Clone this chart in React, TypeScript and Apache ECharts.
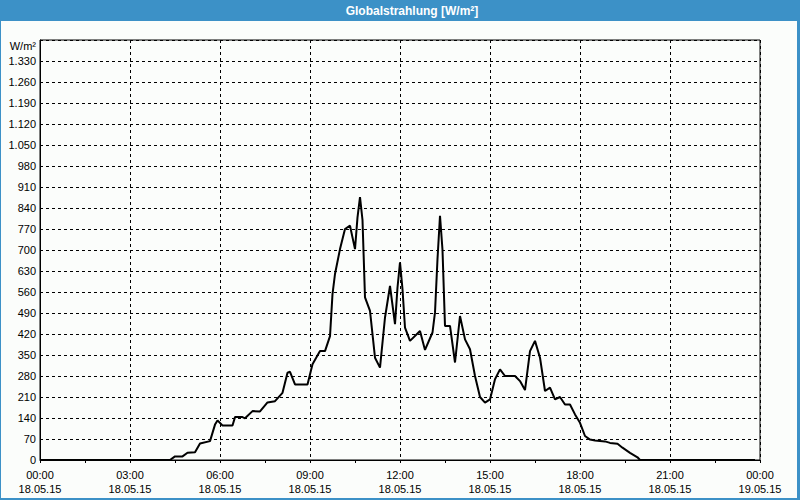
import React, { useEffect, useRef } from "react";
import * as echarts from "echarts";

const TITLE = "Globalstrahlung [W/m²]";
const UNIT = "W/m²";

const times = [
  "00:00", "04:20", "04:30", "04:45", "04:55", "05:10", "05:20", "05:40", "05:50", "05:55",
  "06:05", "06:25", "06:30", "06:45", "06:50", "07:05", "07:20", "07:35", "07:50", "08:05",
  "08:15", "08:20", "08:30", "08:55", "09:05", "09:20", "09:30", "09:40", "09:45", "09:50",
  "10:00", "10:10", "10:20", "10:30", "10:35", "10:40", "10:45", "10:50", "11:00", "11:10",
  "11:20", "11:30", "11:40", "11:50", "11:55", "12:00", "12:05", "12:10", "12:20", "12:40",
  "12:50", "13:05", "13:10", "13:15", "13:20", "13:25", "13:30", "13:40", "13:50", "14:00",
  "14:10", "14:20", "14:30", "14:40", "14:50", "15:00", "15:10", "15:20", "15:30", "15:50",
  "16:00", "16:10", "16:20", "16:30", "16:40", "16:50", "17:00", "17:10", "17:20", "17:30",
  "17:40", "17:50", "18:00", "18:10", "18:20", "18:30", "18:50", "19:00", "19:15", "19:25",
  "19:40", "19:55", "20:00", "23:50",
];

const radiation = [
  0, 0, 12, 12, 24, 26, 55, 63, 118, 132,
  115, 115, 143, 143, 139, 163, 162, 192, 196, 224,
  291, 294, 252, 252, 319, 363, 363, 413, 553, 620,
  703, 770, 781, 703, 809, 876, 800, 542, 497, 341,
  308, 475, 580, 453, 575, 659, 569, 441, 397, 430,
  367, 425, 492, 670, 814, 700, 447, 447, 325, 480,
  402, 369, 280, 210, 191, 202, 269, 302, 280, 280,
  263, 233, 363, 397, 341, 230, 241, 202, 210, 185,
  185, 152, 124, 80, 68, 65, 62, 57, 54, 41,
  24, 9, 0, 0,
];

const dayLabels = ["18.05.15", "19.05.15"];

const Y_MAX = 1400;
const Y_STEP = 70;

function toHours(t: string): number {
  const [h, m] = t.split(":").map(Number);
  return h + m / 60;
}

function fmtThousands(v: number): string {
  const s = String(Math.round(v));
  return s.replace(/\B(?=(\d{3})+(?!\d))/g, ".");
}

export default function App() {
  const ref = useRef<HTMLDivElement>(null);

  useEffect(() => {
    if (!ref.current) return;
    const chart = echarts.init(ref.current, undefined, { renderer: "svg" });
    const data = times.map((t, i) => [toHours(t), radiation[i]]);
    const font = "Liberation Sans";
    chart.setOption({
      animation: false,
      backgroundColor: "#fbfdfb",
      textStyle: { fontFamily: font },
      graphic: [
        { type: "rect", shape: { x: 0, y: 0, width: 800, height: 21 }, style: { fill: "#3c91c7" }, silent: true },
        { type: "rect", shape: { x: 0, y: 0, width: 1, height: 500 }, style: { fill: "#3c91c7" }, silent: true },
        { type: "rect", shape: { x: 797, y: 0, width: 3, height: 500 }, style: { fill: "#3c91c7" }, silent: true },
        { type: "rect", shape: { x: 0, y: 498, width: 800, height: 2 }, style: { fill: "#3c91c7" }, silent: true },
        {
          type: "text",
          x: 412,
          y: 11,
          style: {
            text: TITLE,
            fill: "#ffffff",
            font: `bold 12px "${font}"`,
            align: "center",
            verticalAlign: "middle",
          },
          silent: true,
        },
      ],
      grid: {
        left: 40,
        right: 40,
        top: 40,
        bottom: 40,
        show: true,
        borderColor: "#000",
        borderWidth: 1,
        backgroundColor: "transparent",
      },
      xAxis: {
        type: "value",
        min: 0,
        max: 24,
        interval: 3,
        axisLine: { show: true, lineStyle: { color: "#000", width: 1 } },
        axisTick: { show: true, length: 3, inside: false, lineStyle: { color: "#000" } },
        minorTick: { show: true, splitNumber: 2, length: 3, lineStyle: { color: "#000" } },
        splitLine: { show: true, lineStyle: { color: "#000", type: [3, 3], width: 1 } },
        axisLabel: {
          color: "#000",
          fontSize: 11,
          fontFamily: font,
          lineHeight: 14,
          margin: 8,
          formatter: (v: number) => {
            const h = Math.round(v);
            const hh = String(h % 24).padStart(2, "0");
            const day = h >= 24 ? dayLabels[1] : dayLabels[0];
            return `${hh}:00\n${day}`;
          },
        },
      },
      yAxis: {
        type: "value",
        min: 0,
        max: Y_MAX,
        interval: Y_STEP,
        name: UNIT,
        nameLocation: "end",
        nameGap: -6,
        nameTextStyle: {
          color: "#000",
          fontSize: 11,
          fontFamily: font,
          align: "right",
          verticalAlign: "middle",
          padding: [0, 4, 0, 0],
        },
        axisLine: { show: true, lineStyle: { color: "#000", width: 1 } },
        axisTick: { show: false },
        splitLine: { show: true, lineStyle: { color: "#000", type: [3, 3], width: 1 } },
        axisLabel: {
          color: "#000",
          fontSize: 11,
          fontFamily: font,
          margin: 4,
          formatter: (v: number) => (v >= Y_MAX ? "" : fmtThousands(v)),
        },
      },
      series: [
        {
          type: "line",
          data,
          symbol: "none",
          lineStyle: { color: "#000", width: 2 },
          z: 5,
        },
      ],
    });
    return () => chart.dispose();
  }, []);

  return (
    <div
      ref={ref}
      style={{ position: "absolute", left: 0, top: 0, width: 800, height: 500 }}
    />
  );
}
